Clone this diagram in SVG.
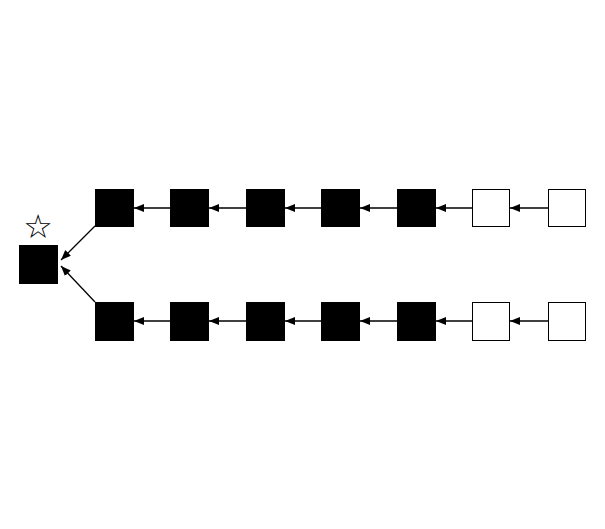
<svg xmlns="http://www.w3.org/2000/svg" width="605" height="529" viewBox="0 0 605 529">
<style>
.b{fill:#000;stroke:#000;stroke-width:1}
.w{fill:#fff;stroke:#000;stroke-width:1}
.c line{stroke:#000;stroke-width:1.3;fill:none}
</style>
<defs>
<marker id="a" markerWidth="10" markerHeight="8" refX="10" refY="4" orient="auto" markerUnits="userSpaceOnUse">
<path d="M0,0 L10,4 L0,8 Z" fill="#000"/>
</marker>
</defs>
<rect width="605" height="529" fill="#fff"/>
<g id="root"><rect class="b" x="19.5" y="245.5" width="38" height="38"/><text x="38" y="238" font-family="DejaVu Sans, sans-serif" font-size="33" fill="#000" text-anchor="middle">☆</text></g>
<g id="t1"><rect class="b" x="95.5" y="189.5" width="38" height="37"/></g>
<g id="t2"><rect class="b" x="170.5" y="189.5" width="38" height="37"/></g>
<g id="t3"><rect class="b" x="246.5" y="189.5" width="38" height="37"/></g>
<g id="t4"><rect class="b" x="321.5" y="189.5" width="38" height="37"/></g>
<g id="t5"><rect class="b" x="397.5" y="189.5" width="38" height="37"/></g>
<g id="t6"><rect class="w" x="472.5" y="189.5" width="37" height="37"/></g>
<g id="t7"><rect class="w" x="548.5" y="189.5" width="37" height="37"/></g>
<g id="u1"><rect class="b" x="95.5" y="302.5" width="38" height="38"/></g>
<g id="u2"><rect class="b" x="170.5" y="302.5" width="38" height="38"/></g>
<g id="u3"><rect class="b" x="246.5" y="302.5" width="38" height="38"/></g>
<g id="u4"><rect class="b" x="321.5" y="302.5" width="38" height="38"/></g>
<g id="u5"><rect class="b" x="397.5" y="302.5" width="38" height="38"/></g>
<g id="u6"><rect class="w" x="472.5" y="302.5" width="37" height="38"/></g>
<g id="u7"><rect class="w" x="548.5" y="302.5" width="37" height="38"/></g>
<g class="c">
<line x1="170" y1="208" x2="134" y2="208" marker-end="url(#a)"/>
<line x1="246" y1="208" x2="209" y2="208" marker-end="url(#a)"/>
<line x1="321" y1="208" x2="285" y2="208" marker-end="url(#a)"/>
<line x1="397" y1="208" x2="360" y2="208" marker-end="url(#a)"/>
<line x1="472" y1="208" x2="436" y2="208" marker-end="url(#a)"/>
<line x1="548" y1="208" x2="510" y2="208" marker-end="url(#a)"/>
<line x1="170" y1="321" x2="134" y2="321" marker-end="url(#a)"/>
<line x1="246" y1="321" x2="209" y2="321" marker-end="url(#a)"/>
<line x1="321" y1="321" x2="285" y2="321" marker-end="url(#a)"/>
<line x1="397" y1="321" x2="360" y2="321" marker-end="url(#a)"/>
<line x1="472" y1="321" x2="436" y2="321" marker-end="url(#a)"/>
<line x1="548" y1="321" x2="510" y2="321" marker-end="url(#a)"/>
<line x1="95" y1="226" x2="61" y2="260" marker-end="url(#a)"/>
<line x1="95" y1="302" x2="61" y2="266" marker-end="url(#a)"/>
</g>
</svg>
